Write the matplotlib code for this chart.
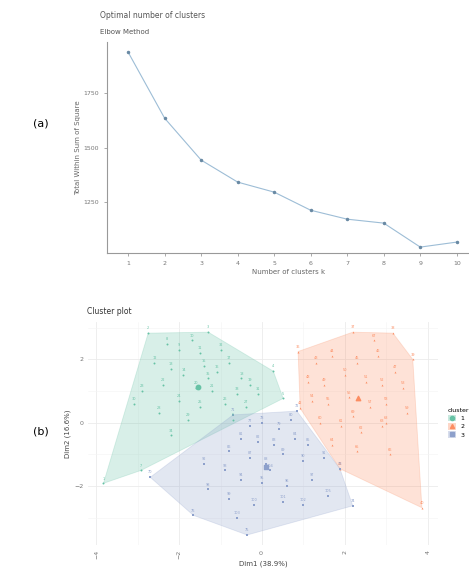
import numpy as np
import matplotlib.pyplot as plt
from matplotlib.lines import Line2D
from matplotlib.patches import Patch

# elbow data
k_values = [1, 2, 3, 4, 5, 6, 7, 8, 9, 10]
wss = [1938, 1635, 1443, 1342, 1296, 1213, 1172, 1154, 1044, 1067]

# cluster plot data (Dim1, Dim2)
green_x = [-3.83, -2.75, -1.30, 0.27, 0.51, -0.70, -2.92, -2.3, -2.0, -1.7, -1.5, -2.6, -2.2, -1.9,
           -1.4, -1.1, -0.8, -0.5, -0.3, -1.6, -1.2, -2.4, -2.9, -2.0, -1.5, -0.9, -0.4, -2.5, -1.8,
           -3.1, -0.1, -1.0, -0.6, -2.2, -1.3]
green_y = [-1.91, 2.83, 2.86, 1.63, 0.77, 0.09, -1.5, 2.5, 2.3, 2.6, 2.2, 1.9, 1.7, 1.5,
           1.8, 1.6, 1.9, 1.4, 1.2, 1.1, 1.0, 1.2, 1.0, 0.7, 0.5, 0.6, 0.5, 0.3, 0.1,
           0.6, 0.9, 2.3, 0.9, -0.4, 1.4]
orange_x = [0.87, 2.19, 3.16, 3.64, 3.86, 1.88, 0.92, 1.3, 1.7, 2.3, 2.8, 3.2, 1.1, 1.5, 2.0,
            2.5, 2.9, 3.4, 1.2, 1.6, 2.1, 2.6, 3.0, 3.5, 1.4, 1.9, 2.4, 2.9, 1.7, 2.3, 3.1,
            2.7, 3.0, 2.2]
orange_y = [2.25, 2.86, 2.83, 2.0, -2.68, -1.45, 0.46, 1.9, 2.1, 1.9, 2.1, 1.6, 1.3, 1.2, 1.5,
            1.3, 1.2, 1.1, 0.7, 0.6, 0.8, 0.5, 0.6, 0.3, 0.0, -0.1, -0.3, -0.1, -0.7, -0.9, -1.0,
            2.6, 0.0, 0.2]
blue_x = [-2.70, -0.70, 0.84, 1.88, 2.19, -0.36, -1.66, -0.3, 0.0, 0.4, 0.7, -0.5, -0.1, 0.3,
          0.8, 1.1, -0.8, -0.3, 0.1, 0.5, 1.0, 1.5, -1.4, -0.9, -0.5, 0.0, 0.6, 1.2, -1.3,
          -0.8, -0.2, 0.5, 1.0, -0.6, 0.2, 1.6]
blue_y = [-1.72, 0.25, 0.37, -1.45, -2.62, -3.54, -2.92, -0.1, 0.0, -0.2, 0.1, -0.5, -0.6, -0.7,
          -0.5, -0.7, -0.9, -1.1, -1.3, -1.0, -1.2, -1.1, -1.3, -1.5, -1.8, -1.9, -2.0, -1.8, -2.1,
          -2.4, -2.6, -2.5, -2.6, -3.0, -1.5, -2.3]


def convex_hull(xs, ys):
    pts = sorted(set(zip(xs, ys)))

    def cross(o, a, b):
        return (a[0] - o[0]) * (b[1] - o[1]) - (a[1] - o[1]) * (b[0] - o[0])

    lower, upper = [], []
    for p in pts:
        while len(lower) >= 2 and cross(lower[-2], lower[-1], p) <= 0:
            lower.pop()
        lower.append(p)
    for p in reversed(pts):
        while len(upper) >= 2 and cross(upper[-2], upper[-1], p) <= 0:
            upper.pop()
        upper.append(p)
    return np.array(lower[:-1] + upper[:-1])


fig = plt.figure(figsize=(4.69, 5.69), dpi=100)

# ---- (a) elbow ----
ax1 = fig.add_axes([0.228, 0.555, 0.774, 0.371])
ax1.plot(k_values, wss, color='#9dbdd6', lw=0.8, marker='o', ms=1.5,
         mfc='#6a8aa4', mec='#6a8aa4')
ax1.set_xlim(0.42, 10.36)
ax1.set_ylim(1016, 1984)
ax1.set_xticks(k_values)
ax1.set_yticks([1250, 1500, 1750])
for s in ['top', 'right']:
    ax1.spines[s].set_visible(False)
for s in ['left', 'bottom']:
    ax1.spines[s].set_color('#999999')
    ax1.spines[s].set_linewidth(0.8)
ax1.tick_params(labelsize=4.5, colors='#888888', length=2, width=0.5, labelcolor='#777777')
ax1.set_xlabel('Number of clusters k', fontsize=5, color='#666666', labelpad=2)
ax1.set_ylabel('Total Within Sum of Square', fontsize=5, color='#666666', labelpad=2)
fig.text(100 / 469, 1 - 15 / 569, 'Optimal number of clusters', fontsize=5.5,
         color='#555555', va='center')
fig.text(100 / 469, 1 - 32 / 569, 'Elbow Method', fontsize=5, color='#555555', va='center')

# ---- (b) cluster plot ----
ax2 = fig.add_axes([0.188, 0.042, 0.746, 0.392])
groups = [
    ('1', green_x, green_y, '#66c2a5', 'o'),
    ('2', orange_x, orange_y, '#fc8d62', '^'),
    ('3', blue_x, blue_y, '#8da0cb', 's'),
]
n = 1
for name, xs, ys, col, mk in groups:
    hull = convex_hull(xs, ys)
    ax2.fill(hull[:, 0], hull[:, 1], color=col, alpha=0.25, lw=0.6, ec=col, zorder=1)
    ax2.scatter(xs, ys, s=2, color=col, marker=mk, zorder=2, linewidths=0)
    for x, y in zip(xs, ys):
        ax2.text(x, y + 0.12, str(n), fontsize=2.5, color=col, ha='center', zorder=3)
        n += 1
    ax2.scatter([np.mean(xs)], [np.mean(ys)], s=10, color=col, marker=mk, zorder=3)

ax2.set_xlim(-4.2, 4.25)
ax2.set_ylim(-3.86, 3.18)
ax2.set_xticks([-4, -2, 0, 2, 4])
ax2.set_yticks([-2, 0, 2])
ax2.set_xticks([-3, -1, 1, 3], minor=True)
ax2.set_yticks([-3, -1, 1, 3], minor=True)
ax2.grid(True, which='major', color='#ebebeb', lw=0.6)
ax2.grid(True, which='minor', color='#f4f4f4', lw=0.4)
ax2.set_axisbelow(True)
for s in ax2.spines.values():
    s.set_visible(False)
ax2.tick_params(which='both', length=0, labelsize=4.5, labelcolor='#777777')
ax2.tick_params(axis='x', labelrotation=90)
ax2.set_xlabel('Dim1 (38.9%)', fontsize=5, color='#444444', labelpad=1)
ax2.set_ylabel('Dim2 (16.6%)', fontsize=5, color='#444444', labelpad=2)
fig.text(87 / 469, 1 - 312 / 569, 'Cluster plot', fontsize=5.5, color='#333333', va='center')

handles = [(Patch(facecolor=c, alpha=0.35, edgecolor='none'),
            Line2D([], [], marker=m, ls='none', color=c, ms=3)) for _, _, _, c, m in groups]
fig.legend(handles, ['1', '2', '3'], title='cluster', loc='upper left',
           bbox_to_anchor=(448 / 469, 1 - 408 / 569), frameon=False, fontsize=4.5,
           title_fontsize=4.5, handlelength=1.2, handleheight=1.2, labelspacing=0.3,
           borderaxespad=0, borderpad=0, alignment='left')

fig.text(33 / 469, 1 - 124 / 569, '(a)', fontsize=8, va='center')
fig.text(33 / 469, 1 - 432 / 569, '(b)', fontsize=8, va='center')

fig.savefig('out.png', dpi=100)
